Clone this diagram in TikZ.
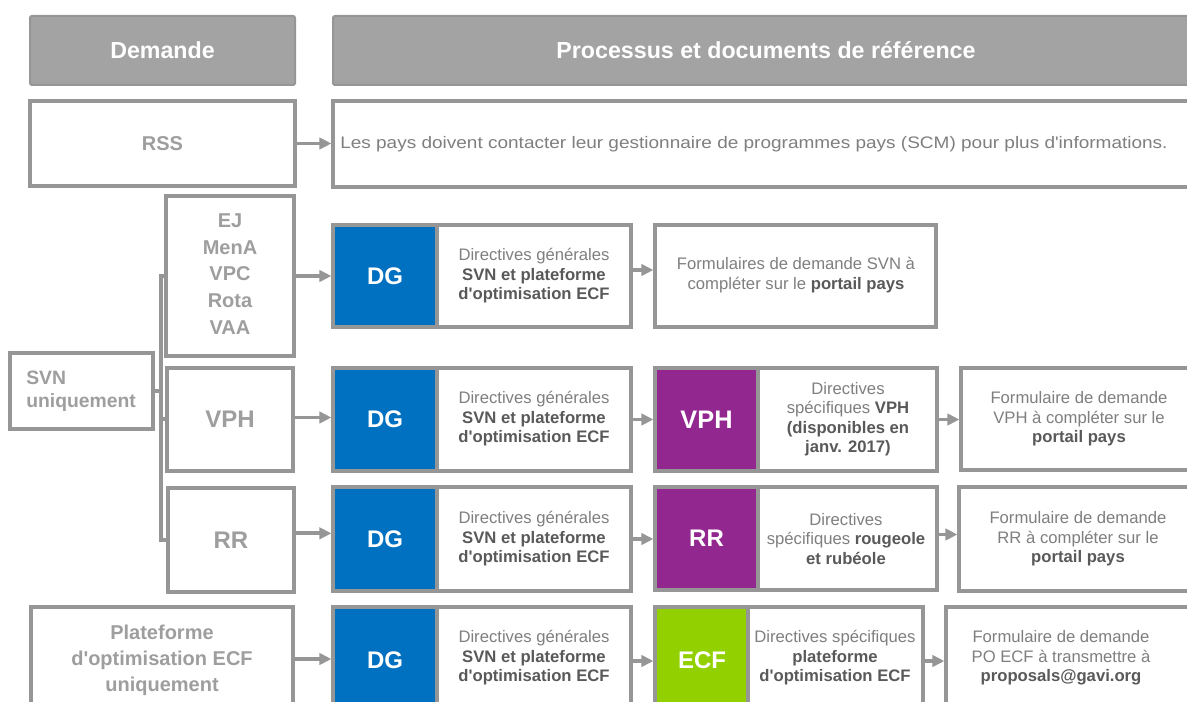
\documentclass[tikz,border=0pt]{standalone}
\usepackage{fontspec}
\setmainfont{Liberation Sans}[Ligatures=TeXOff]
\usetikzlibrary{arrows.meta,fit,calc}
\definecolor{bord}{RGB}{150,150,150}
\definecolor{headfill}{RGB}{163,163,163}
\definecolor{lbl}{RGB}{158,158,158}
\definecolor{txt}{RGB}{127,127,127}
\definecolor{txtd}{RGB}{89,89,89}
\definecolor{dgblue}{RGB}{0,112,192}
\definecolor{vphpurple}{RGB}{146,39,143}
\definecolor{ecfgreen}{RGB}{146,208,0}
\newcommand\bdt[1]{{\bfseries\color{txtd}#1}}
\newcommand\apo{'}
\tikzset{
  frame/.style={draw=bord, line width=2.4pt, fill=white, inner sep=0pt},
  head/.style={draw=bord, line width=1.5pt, fill=headfill, rounded corners=1.5pt, inner sep=0pt},
  headtxt/.style={text=white, font=\bfseries\fontsize{17.4}{20}\selectfont, inner sep=0pt},
  lab/.style={text=lbl, font=\bfseries\fontsize{15}{20}\selectfont, align=center, inner sep=0pt},
  biglab/.style={text=lbl, font=\bfseries\fontsize{18}{20}\selectfont, align=center, inner sep=0pt},
  body/.style={text=txt, font=\fontsize{12.5}{14.6}\selectfont, align=center, inner sep=0pt},
  tag/.style={draw=bord, line width=2.4pt, inner sep=0pt},
  tagtxt/.style={text=white, font=\bfseries\fontsize{18}{20}\selectfont, inner sep=0pt},
  arr/.style={draw=bord, line width=2.8pt, -{Triangle[length=9pt,width=8.5pt]}},
  brk/.style={draw=bord, line width=2.8pt},
}
\begin{document}
\begin{tikzpicture}[x=0.75pt,y=-0.75pt]
\useasboundingbox (0,0) rectangle (1187,702);
\clip (0,0) rectangle (1187,702);
\fill[white] (0,0) rectangle (1187,702);

% headers
\node[head, fit={(30,16)(295,85)}] (hD) {};
\node[headtxt] (hDT) at (hD.center) {Demande};
\node[head, fit={(333,16)(1200,85)}] (hP) {};
\node[headtxt] (hPT) at (766,50) {Processus et documents de référence};

% RSS row
\node[frame, fit={(30,101)(295,186)}] (rss) {};
\node[lab] (rssT) at (rss.center) {RSS};
\node[frame, fit={(333,101)(1200,187)}] (rssR) {};
\node[body, anchor=west] (rssRT) at (340,144) {\scalebox{1.14}[1]{Les pays doivent contacter leur gestionnaire de programmes pays (SCM) pour plus d\apo informations.}};
\draw[arr] (rss.east) -- (rssR.west |- rss.east);

% left column
\node[frame, fit={(166,196)(294,356)}] (ej) {};
\node[lab] (ejT) at (230,274) {EJ\\MenA\\VPC\\Rota\\VAA};
\node[frame, fit={(167,368)(293,471)}] (vphL) {};
\node[biglab] (vphLT) at (vphL.center) {VPH};
\node[frame, fit={(168,488)(294,592)}] (rrL) {};
\node[biglab] (rrLT) at (rrL.center) {RR};
\node[frame, fit={(10,353)(153,429)}] (svn) {};
\node[lab, align=left, anchor=west, font=\bfseries\fontsize{14.5}{17}\selectfont] (svnT) at (26,391) {SVN\\uniquement};
\node[frame, fit={(31,607)(293,713)}] (po) {};
\node[lab, font=\bfseries\fontsize{15}{19.5}\selectfont] (poT) at (162,660) {Plateforme\\d\apo optimisation ECF\\uniquement};

% bracket
\coordinate (bt) at (161,276);
\coordinate (bb) at (161,540);
\coordinate (bs) at (161,391);
\coordinate (bv) at (161,419);
\draw[brk] (ej.west |- bt) -- (bt) -- (bb) -- (rrL.west |- bb);
\draw[brk] (svn.east |- bs) -- (bs);
\draw[brk] (bv) -- (vphL.west |- bv);

% row 1
\node[frame, fit={(333,225)(631,327)}] (dg1) {};
\node[tag, fill=dgblue, fit={(333,225)(437,327)}] (dg1t) {};
\node[tagtxt] (dg1tT) at (dg1t.center) {DG};
\node[body] (dg1T) at (534,276) {Directives générales\\\bdt{SVN et plateforme}\\\bdt{d\apo optimisation ECF}};
\node[frame, fit={(655,225)(936,327)}] (f1) {};
\node[body] (f1T) at (796,275) {Formulaires de demande SVN à\\compléter sur le \bdt{portail pays}};

% row 2
\node[frame, fit={(333,368)(631,471)}] (dg2) {};
\node[tag, fill=dgblue, fit={(333,368)(437,471)}] (dg2t) {};
\node[tagtxt] (dg2tT) at (dg2t.center) {DG};
\node[body] (dg2T) at (534,419) {Directives générales\\\bdt{SVN et plateforme}\\\bdt{d\apo optimisation ECF}};
\node[frame, fit={(655,368)(937,471)}] (v2) {};
\node[tag, fill=vphpurple, fit={(655,368)(758,471)}] (v2t) {};
\node[tagtxt, font=\bfseries\fontsize{19}{20}\selectfont] (v2tT) at (v2t.center) {VPH};
\node[body] (v2T) at (848,419) {Directives\\spécifiques \bdt{VPH}\\\bdt{(disponibles en}\\\bdt{janv. 2017)}};
\node[frame, fit={(961,368)(1200,470)}] (f2) {};
\node[body] (f2T) at (1079,419) {Formulaire de demande\\VPH à compléter sur le\\\bdt{portail pays}};

% row 3
\node[frame, fit={(333,487)(631,591)}] (dg3) {};
\node[tag, fill=dgblue, fit={(333,487)(437,591)}] (dg3t) {};
\node[tagtxt] (dg3tT) at (dg3t.center) {DG};
\node[body] (dg3T) at (534,539) {Directives générales\\\bdt{SVN et plateforme}\\\bdt{d\apo optimisation ECF}};
\node[frame, fit={(655,487)(937,590)}] (r3) {};
\node[tag, fill=vphpurple, fit={(655,487)(758,590)}] (r3t) {};
\node[tagtxt] (r3tT) at (r3t.center) {RR};
\node[body] (r3T) at (846,539) {Directives\\spécifiques \bdt{rougeole}\\\bdt{et rubéole}};
\node[frame, fit={(959,487)(1200,591)}] (f3) {};
\node[body] (f3T) at (1078,539) {Formulaire de demande\\RR à compléter sur le\\\bdt{portail pays}};

% row 4
\node[frame, fit={(333,607)(631,713)}] (dg4) {};
\node[tag, fill=dgblue, fit={(333,607)(437,713)}] (dg4t) {};
\node[tagtxt] (dg4tT) at (385,660) {DG};
\node[body] (dg4T) at (534,658) {Directives générales\\\bdt{SVN et plateforme}\\\bdt{d\apo optimisation ECF}};
\node[frame, fit={(655,607)(923,713)}] (e4) {};
\node[tag, fill=ecfgreen, fit={(655,607)(748,713)}] (e4t) {};
\node[tagtxt] (e4tT) at (702,660) {ECF};
\node[body] (e4T) at (835,658) {Directives spécifiques\\\bdt{plateforme}\\\bdt{d\apo optimisation ECF}};
\node[frame, fit={(946,607)(1200,713)}] (f4) {};
\node[body] (f4T) at (1061,658) {Formulaire de demande\\PO ECF à transmettre à\\\bdt{proposals@gavi.org}};

% arrow start points
\coordinate (s2) at ([yshift=1.5pt]vphL.east);
\coordinate (s3) at ([yshift=5pt]rrL.east);
\coordinate (s4) at (po.east |- 0,659);
\coordinate (s5) at ([yshift=4.5pt]dg1.east);
\coordinate (s9) at ([yshift=3pt]r3.east);
\coordinate (s10) at (dg4.east |- 0,661);
\coordinate (s11) at (e4.east |- 0,661);

% arrows left -> DG
\draw[arr] (ej.east) -- (dg1.west |- ej.east);
\draw[arr] (s2) -- (dg2.west |- s2);
\draw[arr] (s3) -- (dg3.west |- s3);
\draw[arr] (s4) -- (dg4.west |- s4);

% arrows along rows
\draw[arr] (s5) -- (f1.west |- s5);
\draw[arr] (dg2.east) -- (v2.west |- dg2.east);
\draw[arr] (v2.east) -- (f2.west |- v2.east);
\draw[arr] (dg3.east) -- (r3.west |- dg3.east);
\draw[arr] (s9) -- (f3.west |- s9);
\draw[arr] (s10) -- (e4.west |- s10);
\draw[arr] (s11) -- (f4.west |- s11);
\end{tikzpicture}
\end{document}
